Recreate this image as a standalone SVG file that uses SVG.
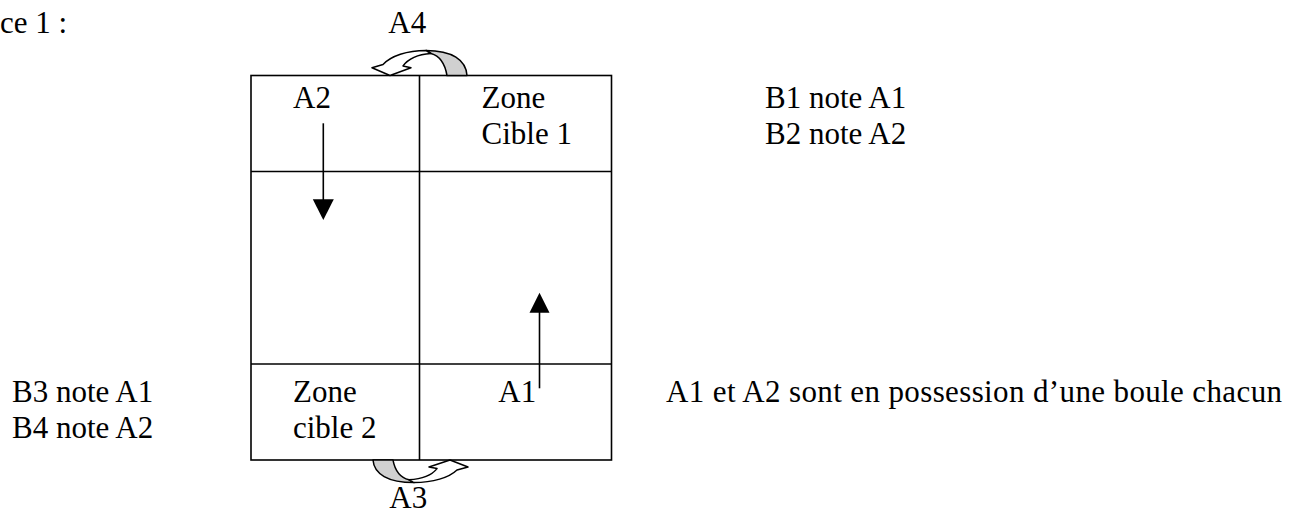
<svg xmlns="http://www.w3.org/2000/svg" width="1293" height="513" viewBox="0 0 1293 513">
<defs>
<style>
text{font-family:"Liberation Serif","Times New Roman",serif;font-size:31px;fill:#000}
.ln{stroke:#000;stroke-width:1.6;fill:none}
.ah{fill:#000;stroke:none}
.front{fill:#fff;stroke:#000;stroke-width:1.5;stroke-linejoin:round}
.back{fill:#d0d0d0;stroke:#000;stroke-width:1.5;stroke-linejoin:round}
</style>
<g id="curved">
<path class="back" vector-effect="non-scaling-stroke" d="M426 50.5 C452 50.5 466 60 467 75.5 L447 75.5 C445 64 440 56 431 53.5 Z"/>
<path class="front" vector-effect="non-scaling-stroke" d="M403 66 C408 59 417 54.5 431 53.5 L426 50.5 C407 50.5 391 56 383 64.5 L372 67.7 L390 75.5 L411 67.7 Z"/>
</g>
</defs>
<rect width="1293" height="513" fill="#fff"/>
<text x="0" y="33">ce 1 :</text>
<g id="grid">
<rect class="ln" x="251" y="75.5" width="360.5" height="384.5"/>
<line class="ln" x1="419.5" y1="75.5" x2="419.5" y2="460"/>
<line class="ln" x1="251" y1="171.5" x2="611.5" y2="171.5"/>
<line class="ln" x1="251" y1="364" x2="611.5" y2="364"/>
</g>
<g id="cell-a2"><text x="293" y="107.7">A2</text></g>
<g id="cell-zone1"><text x="481.5" y="107.7">Zone</text><text x="481.5" y="144.3">Cible 1</text></g>
<g id="cell-zone2"><text x="293" y="401.7">Zone</text><text x="293" y="438.3">cible 2</text></g>
<g id="cell-a1"><text x="498.3" y="401.7">A1</text></g>
<g id="notes-right"><text x="765" y="107.7">B1 note A1</text><text x="765" y="144.3">B2 note A2</text></g>
<g id="notes-left"><text x="12" y="401.7">B3 note A1</text><text x="12" y="437.7">B4 note A2</text></g>
<g id="info"><text x="666" y="401.7" textLength="616" lengthAdjust="spacing">A1 et A2 sont en possession d’une boule chacun</text></g>
<g id="a4"><text x="388.3" y="33.3">A4</text><use href="#curved"/></g>
<g id="a3"><text x="389.3" y="508">A3</text><use href="#curved" transform="matrix(-1 0 0 -0.9 840 528)"/></g>
<g id="connectors">
<line class="ln" x1="323.3" y1="123.3" x2="323.3" y2="201"/>
<path class="ah" d="M312.8 199.3 L333.8 199.3 L323.3 220 Z"/>
<line class="ln" x1="539.5" y1="388.3" x2="539.5" y2="311"/>
<path class="ah" d="M529.5 312.7 L549.5 312.7 L539.5 292.7 Z"/>
</g>
</svg>
